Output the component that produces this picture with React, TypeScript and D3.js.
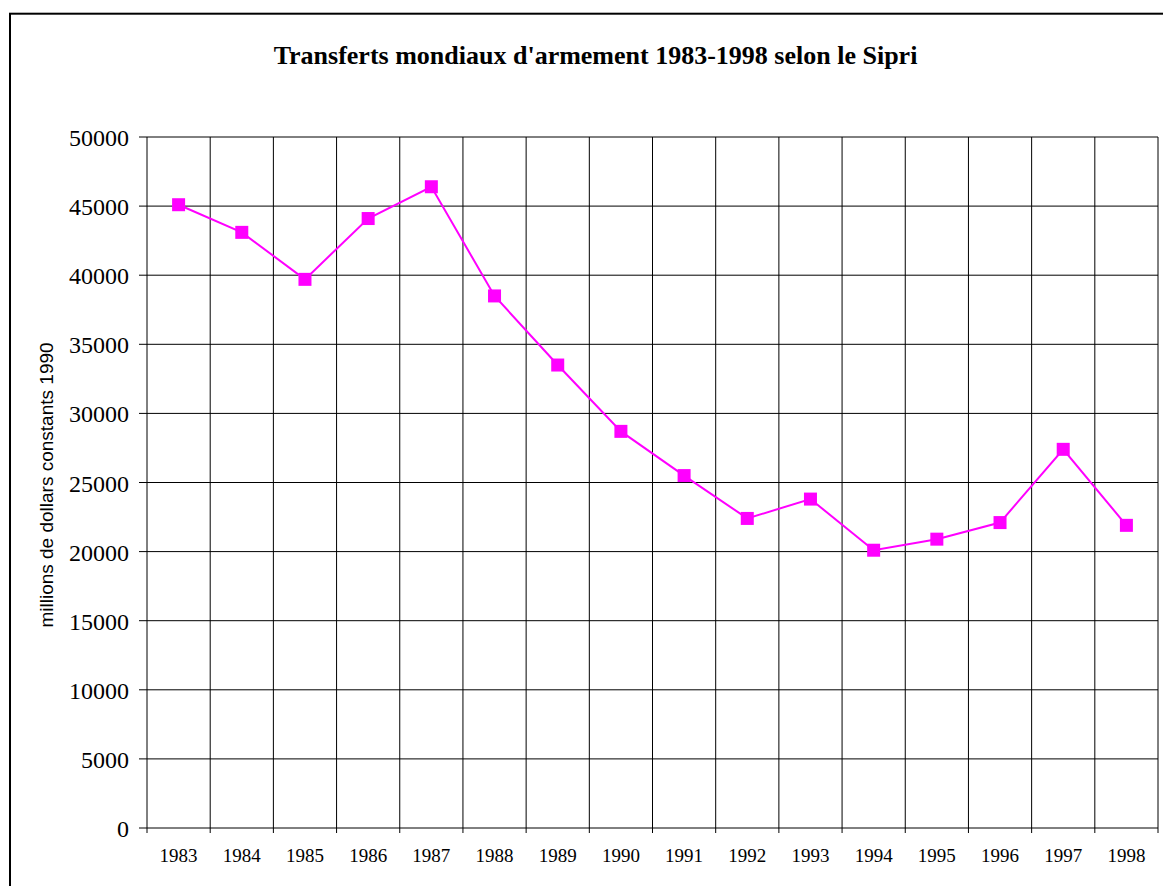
import React from "react";
import * as d3 from "d3";

const years = ["1983","1984","1985","1986","1987","1988","1989","1990","1991","1992","1993","1994","1995","1996","1997","1998"];
const values = [45100, 43100, 39700, 44100, 46400, 38500, 33500, 28700, 25500, 22400, 23800, 20100, 20900, 22100, 27400, 21900];
const yTicks = [0, 5000, 10000, 15000, 20000, 25000, 30000, 35000, 40000, 45000, 50000];
const title = "Transferts mondiaux d'armement 1983-1998 selon le Sipri";
const yTitle = "millions de dollars constants 1990";

export default function App() {
  const W = 1163, H = 886;
  const left = 147, right = 1158, top = 137, bottom = 828;
  const x = d3.scaleBand<string>().domain(years).range([left, right]).paddingInner(0).paddingOuter(0);
  const y = d3.scaleLinear().domain([0, 50000]).range([bottom, top]);
  const cx = (d: string) => (x(d) as number) + x.bandwidth() / 2;
  const line = d3.line<number>().x((_, i) => cx(years[i])).y((v) => y(v));
  const boundaries = years.map((d) => x(d) as number).concat([right]);
  const serif = "Liberation Serif, Times New Roman, serif";
  const sans = "Liberation Sans, Arial, sans-serif";
  const ms = 13;
  return (
    <svg width={W} height={H} style={{ position: "absolute", left: 0, top: 0, background: "#fff" }}>
      <rect x={0} y={0} width={W} height={H} fill="#fff" />
      <rect x={10} y={13.7} width={1300} height={1000} fill="none" stroke="#000" strokeWidth={2} />
      <text x={595.5} y={64} textAnchor="middle" style={{ fontFamily: serif }} fontWeight="bold" fontSize={26} fill="#000">{title}</text>
      {yTicks.map((t) => (
        <g key={"h" + t}>
          <line x1={139} x2={right} y1={y(t)} y2={y(t)} stroke="#000" strokeWidth={1} />
          <text x={129} y={y(t) + 9} textAnchor="end" style={{ fontFamily: serif }} fontSize={24} fill="#000">{t}</text>
        </g>
      ))}
      {boundaries.map((b, i) => (
        <line key={"v" + i} x1={b} x2={b} y1={top} y2={bottom + 5} stroke="#000" strokeWidth={1} />
      ))}
      {years.map((d) => (
        <text key={"xl" + d} x={cx(d)} y={862} textAnchor="middle" style={{ fontFamily: serif }} fontSize={19} fill="#000">{d}</text>
      ))}
      <text transform={`translate(52.5,485) rotate(-90)`} textAnchor="middle" style={{ fontFamily: sans }} fontSize={19} fill="#000">{yTitle}</text>
      <path d={line(values) || ""} fill="none" stroke="#FF00FF" strokeWidth={2} />
      {values.map((v, i) => (
        <rect key={"m" + i} x={cx(years[i]) - ms / 2} y={y(v) - ms / 2} width={ms} height={ms} fill="#FF00FF" />
      ))}
    </svg>
  );
}
